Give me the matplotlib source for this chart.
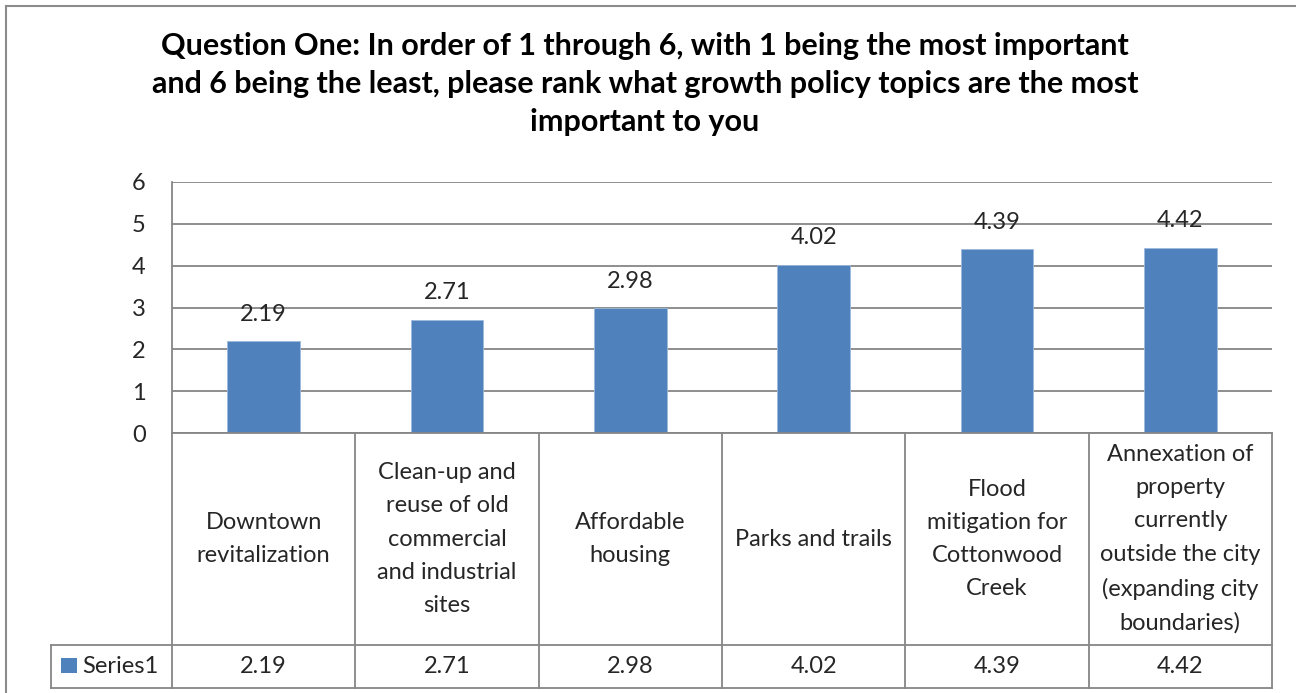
import matplotlib
matplotlib.use("Agg")
import matplotlib.pyplot as plt
from matplotlib.lines import Line2D
from matplotlib.patches import Rectangle
import matplotlib.transforms as mtransforms

plt.rcParams['font.family'] = ['Lato', 'DejaVu Sans']

title = ("Question One: In order of 1 through 6, with 1 being the most important\n"
         "and 6 being the least, please rank what growth policy topics are the most\n"
         "important to you")
categories = [
    "Downtown\nrevitalization",
    "Clean-up and\nreuse of old\ncommercial\nand industrial\nsites",
    "Affordable\nhousing",
    "Parks and trails",
    "Flood\nmitigation for\nCottonwood\nCreek",
    "Annexation of\nproperty\ncurrently\noutside the city\n(expanding city\nboundaries)",
]
series_name = "Series1"
values = [2.19, 2.71, 2.98, 4.02, 4.39, 4.42]
y_ticks = [0, 1, 2, 3, 4, 5, 6]

W, H = 1296, 693
fig = plt.figure(figsize=(W / 100, H / 100), dpi=100)
fig.patch.set_facecolor("white")

def fy(py):
    return 1 - py / H

def fx(px):
    return px / W

bar_color = "#4F81BD"
grid_color = "#868686"
text_color = "#262626"
fs = 17

# plot area
x0, x1 = 172, 1272
ytop, ybot = 182, 433
ax = fig.add_axes([fx(x0), fy(ybot), fx(x1) - fx(x0), fy(ytop) - fy(ybot)])
ax.set_xlim(-0.5, len(categories) - 0.5)
ax.set_ylim(0, 6)
ax.set_yticks(y_ticks)
ax.set_yticklabels([str(t) for t in y_ticks], fontsize=fs, color=text_color)
ax.tick_params(axis='y', length=0, pad=19)
ax.set_xticks([])
ax.yaxis.grid(True, color=grid_color, linewidth=1.3)
ax.set_axisbelow(True)
for s in ["top", "right", "bottom"]:
    ax.spines[s].set_visible(False)
ax.spines["left"].set_color(grid_color)
ax.spines["left"].set_linewidth(1.3)

xs = list(range(len(categories)))
bars = ax.bar(xs, values, width=0.395, color=bar_color, edgecolor="#9DB8DC", linewidth=0.6, zorder=3)
for x, v in zip(xs, values):
    ax.annotate(f"{v:.2f}", (x, v), xytext=(0, 12), textcoords="offset points",
                ha="center", va="bottom", fontsize=fs, color=text_color)

# data table below the axis: x in data units, y in figure fraction
tr = mtransforms.blended_transform_factory(ax.transData, fig.transFigure)
row_sep, row_bot = 645, 688
edges = [i - 0.5 for i in range(len(categories) + 1)]
lw = 1.3

def hline(y_px, xa, xb, trans):
    fig.add_artist(Line2D([xa, xb], [fy(y_px), fy(y_px)], transform=trans,
                          color=grid_color, linewidth=lw, clip_on=False))

hline(ybot, edges[0], edges[-1], tr)
hline(row_sep, fx(51), fx(x1), fig.transFigure)
hline(row_bot, fx(51), fx(x1), fig.transFigure)
for e in edges:
    fig.add_artist(Line2D([e, e], [fy(ybot), fy(row_bot)], transform=tr,
                          color=grid_color, linewidth=lw, clip_on=False))
fig.add_artist(Line2D([fx(51), fx(51)], [fy(row_sep), fy(row_bot)],
                      transform=fig.transFigure, color=grid_color, linewidth=lw))

mid_cat = fy(539)
mid_row = fy((row_sep + row_bot) / 2)
for x, cat, v in zip(xs, categories, values):
    fig.text(x, mid_cat, cat, transform=tr, ha="center", va="center",
             fontsize=fs, color=text_color, linespacing=1.72)
    fig.text(x, mid_row, f"{v:.2f}", transform=tr, ha="center", va="center",
             fontsize=fs, color=text_color)

# legend key for the series row
fig.add_artist(Rectangle((fx(61), fy(673)), fx(16), 15 / H, transform=fig.transFigure,
                         facecolor=bar_color, edgecolor="none"))
fig.text(fx(82), mid_row, series_name, ha="left", va="center", fontsize=fs, color=text_color)

# title
fig.text(fx(645), fy(84), title, ha="center", va="center", fontsize=22,
         fontweight="bold", color="black", linespacing=1.42)

# chart frame
fig.add_artist(Line2D([fx(6), fx(6)], [fy(6), 0], transform=fig.transFigure,
                      color="#8C8C8C", linewidth=1.5))
fig.add_artist(Line2D([fx(6), 1], [fy(6), fy(6)], transform=fig.transFigure,
                      color="#8C8C8C", linewidth=1.5))

fig.savefig("out.png", dpi=100, facecolor="white")
